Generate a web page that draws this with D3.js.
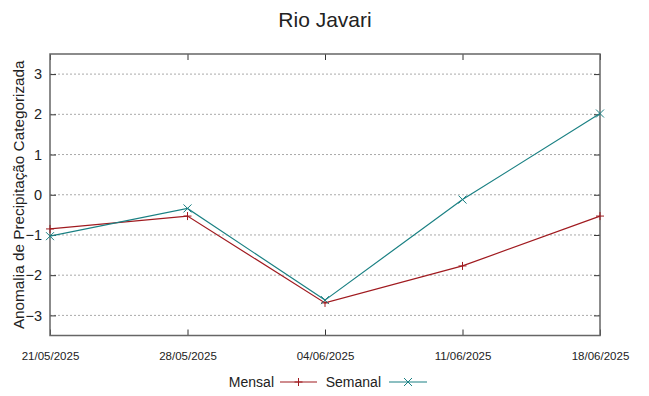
<!DOCTYPE html>
<html lang="pt">
<head>
<meta charset="UTF-8">
<title>Rio Javari</title>
<script src="https://cdn.jsdelivr.net/npm/d3@7"></script>
<style>
    body { margin: 0; background: #fff; }
    text { font-family: "Liberation Sans", Arial, sans-serif; fill: #222; }
</style>
</head>
<body>
<script>
    // dados
    const datas = ['21/05/2025', '28/05/2025', '04/06/2025', '11/06/2025', '18/06/2025'];
    const mensal = [-0.85, -0.53, -2.69, -1.77, -0.53];
    const semanal = [-1.03, -0.34, -2.62, -0.12, 2.02];
    const yTicks = [-3, -2, -1, 0, 1, 2, 3];

    const width = 649, height = 396;
    const m = {top: 54, right: 49, bottom: 60.5, left: 50};
    const corMensal = '#a01a1f', corSemanal = '#1a8083';

    const svg = d3.select('body').append('svg').attr('width', width).attr('height', height);

    const x = d3.scalePoint().domain(datas).range([m.left, width - m.right]);
    const y = d3.scaleLinear().domain([-3.5, 3.5]).range([height - m.bottom, m.top]);

    // grade
    const grade = svg.append('g');
    grade.selectAll('line').data(yTicks).enter().append('line')
        .attr('x1', m.left).attr('x2', width - m.right)
        .attr('y1', d => y(d)).attr('y2', d => y(d))
        .attr('stroke', '#aaa').attr('stroke-width', 1).attr('stroke-dasharray', '2,2');

    // eixos
    const axY = svg.append('g').attr('transform', 'translate(' + m.left + ',0)')
        .call(d3.axisLeft(y).tickValues(yTicks).tickSize(-6).tickPadding(8).tickFormat(d3.format('d')));
    const axYr = svg.append('g').attr('transform', 'translate(' + (width - m.right) + ',0)')
        .call(d3.axisRight(y).tickValues(yTicks).tickSize(-6).tickFormat(''));
    const axX = svg.append('g').attr('transform', 'translate(0,' + (height - m.bottom) + ')')
        .call(d3.axisBottom(x).tickSize(-6).tickPadding(16));
    const axXt = svg.append('g').attr('transform', 'translate(0,' + m.top + ')')
        .call(d3.axisTop(x).tickSize(-6).tickFormat(''));
    [axY, axYr, axX, axXt].forEach(g => {
        g.select('.domain').remove();
        g.selectAll('line').attr('stroke', '#333');
    });
    axY.selectAll('text').attr('font-size', 14.5).attr('fill', '#222');
    axX.selectAll('text').attr('font-size', 11.5).attr('fill', '#222');

    // borda
    svg.append('rect')
        .attr('x', m.left).attr('y', m.top)
        .attr('width', width - m.left - m.right).attr('height', height - m.top - m.bottom)
        .attr('fill', 'none').attr('stroke', '#666').attr('stroke-width', 1.5);

    const linha = d3.line().x((d, i) => x(datas[i])).y(d => y(d));

    function marcador(g, tipo, cx, cy, cor) {
        const s = 4;
        if (tipo === 'plus') {
            g.append('path').attr('d', `M${cx - s},${cy}H${cx + s}M${cx},${cy - s}V${cy + s}`)
                .attr('stroke', cor).attr('stroke-width', 1);
        } else {
            g.append('path').attr('d', `M${cx - s},${cy - s}L${cx + s},${cy + s}M${cx - s},${cy + s}L${cx + s},${cy - s}`)
                .attr('stroke', cor).attr('stroke-width', 1);
        }
    }

    function serie(vals, cor, tipo) {
        const g = svg.append('g');
        g.append('path').datum(vals).attr('d', linha)
            .attr('fill', 'none').attr('stroke', cor).attr('stroke-width', 1.2);
        vals.forEach((v, i) => marcador(g, tipo, x(datas[i]), y(v), cor));
    }
    serie(mensal, corMensal, 'plus');
    serie(semanal, corSemanal, 'cross');

    // título
    svg.append('text').attr('x', 325).attr('y', 27).attr('text-anchor', 'middle')
        .attr('font-size', 21).text('Rio Javari');

    // rótulo y
    svg.append('text').attr('transform', 'translate(24,' + ((m.top + height - m.bottom) / 2) + ') rotate(-90)')
        .attr('text-anchor', 'middle').attr('font-size', 15.3)
        .text('Anomalia de Precipitação Categorizada');

    // legenda
    const leg = svg.append('g');
    const itens = [
        {nome: 'Mensal', cor: corMensal, tipo: 'plus', tx: 274, l1: 280, l2: 317},
        {nome: 'Semanal', cor: corSemanal, tipo: 'cross', tx: 381, l1: 389, l2: 427}
    ];
    itens.forEach(it => {
        leg.append('text').attr('x', it.tx).attr('y', 387).attr('text-anchor', 'end')
            .attr('font-size', 14).text(it.nome);
        leg.append('line').attr('x1', it.l1).attr('x2', it.l2).attr('y1', 382).attr('y2', 382)
            .attr('stroke', it.cor).attr('stroke-width', 1.2);
        marcador(leg, it.tipo, (it.l1 + it.l2) / 2, 382, it.cor);
    });
</script>
</body>
</html>
